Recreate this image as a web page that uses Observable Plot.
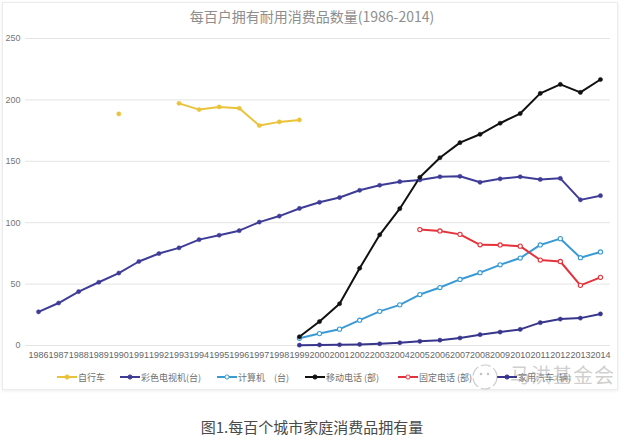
<!DOCTYPE html>
<html>
<head>
<meta charset="utf-8">
<script src="https://cdn.jsdelivr.net/npm/d3@7"></script>
<script src="https://cdn.jsdelivr.net/npm/@observablehq/plot@0.6"></script>
<style>
  html, body { margin: 0; padding: 0; background: #fff; }
  #wrap { position: relative; width: 624px; height: 447px; overflow: hidden; font-family: "Noto Sans CJK SC", "Liberation Sans", sans-serif; }
  #box { position: absolute; left: 2px; top: 2px; width: 614px; height: 386px; border: 1px solid #ececec; box-shadow: 0 1px 3px rgba(0,0,0,0.08); background: #fff; }
  #title { position: absolute; left: 0; width: 624px; top: 6px; text-align: center; font-size: 14px; color: #8e8e8e; line-height: 20px; }
  #plot { position: absolute; left: 0; top: 30px; }
  #legend { position: absolute; top: 368px; left: 0; width: 624px; height: 18px; }
  .li { position: absolute; top: 0; height: 18px; display: flex; align-items: center; font-size: 9px; color: #707070; white-space: pre; }
  .li svg { margin-right: 1px; }
  #wm { position: absolute; left: 510px; top: 362px; font-size: 20px; line-height: 26px; letter-spacing: 1px; white-space: nowrap; color: rgba(160,160,160,0.5); }
  #wmicon { position: absolute; left: 470px; top: 362px; }
  #caption { position: absolute; left: 0; width: 624px; top: 417px; text-align: center; font-size: 15px; color: #4a4a4a; line-height: 20px; }
</style>
</head>
<body>
<div id="wrap">
  <div id="box"></div>
  <div id="title">每百户拥有耐用消费品数量(1986-2014)</div>
  <div id="plot"></div>
  <div id="legend"></div>
  <svg id="wmicon" width="30" height="30"><circle cx="15" cy="15" r="12" fill="none" stroke="rgba(170,170,170,0.6)" stroke-width="1.2" stroke-dasharray="10 3"/><circle cx="11" cy="12" r="1.3" fill="rgba(170,170,170,0.7)"/><circle cx="18" cy="12" r="1.3" fill="rgba(170,170,170,0.7)"/></svg>
  <div id="wm">马洪基金会</div>
  <div id="caption">图1.每百个城市家庭消费品拥有量</div>
</div>
<script>
const years = d3.range(1986, 2015);
const yTicks = [0, 50, 100, 150, 200, 250];

const seriesNames = ["自行车", "彩色电视机(台)", "计算机　(台)", "移动电话 (部)", "固定电话 (部)", "家用汽车 (辆)"];
const seriesColors = ["#EAC33A", "#3E3C96", "#3A9AD6", "#111111", "#E5323A", "#37358C"];
const seriesHollow = [false, false, true, false, true, false];
const legendX = [57, 120, 217, 305, 398, 497];

const N = null;
// values aligned with years 1986..2014
const bicycle = [N,N,N,N,188.6,N,N,197.2,192.1,194.3,193.2,179.1,182.1,183.7,N,N,N,N,N,N,N,N,N,N,N,N,N,N,N];
const colorTV = [27.4,34.6,43.9,51.5,59.0,68.4,74.9,79.5,86.2,89.8,93.5,100.5,105.4,111.6,116.6,120.5,126.4,130.5,133.4,134.8,137.4,137.8,132.9,135.7,137.4,135.2,136.1,118.6,122.0];
const computer = [N,N,N,N,N,N,N,N,N,N,N,N,N,5.9,9.7,13.3,20.6,27.8,33.1,41.5,47.2,53.8,59.3,65.7,71.2,81.9,87.0,71.5,76.2];
const mobile = [N,N,N,N,N,N,N,N,N,N,N,N,N,7.1,19.5,34.0,62.9,90.1,111.4,137.0,152.9,165.2,172.0,181.0,188.9,205.3,212.6,206.1,216.6];
const fixedPhone = [N,N,N,N,N,N,N,N,N,N,N,N,N,N,N,N,N,N,N,94.4,93.3,90.5,82.0,81.9,80.9,69.6,68.4,49.0,55.5];
const car = [N,N,N,N,N,N,N,N,N,N,N,N,N,0.3,0.5,0.6,0.9,1.4,2.2,3.4,4.3,6.1,8.8,10.9,13.1,18.6,21.5,22.3,25.7];

const seriesValues = [bicycle, colorTV, computer, mobile, fixedPhone, car];

const marks = [
  Plot.gridY(yTicks, {stroke: "#e4e4e4", strokeOpacity: 1, strokeWidth: 1}),
  Plot.axisY(yTicks, {tickSize: 0, tickPadding: 5, fontSize: 9, fill: "#777", label: null, fontFamily: "Liberation Sans"}),
  Plot.axisX(years, {tickSize: 0, tickPadding: 6, fontSize: 9, fill: "#666", tickFormat: d => String(d), label: null, fontFamily: "Liberation Sans"})
];

seriesValues.forEach((vals, i) => {
  const data = years.map((y, j) => ({year: y, value: vals[j]}));
  marks.push(Plot.line(data, {x: "year", y: "value", stroke: seriesColors[i], strokeWidth: 2, curve: "linear"}));
});
seriesValues.forEach((vals, i) => {
  const data = years.map((y, j) => ({year: y, value: vals[j]})).filter(d => d.value != null);
  marks.push(Plot.dot(data, {x: "year", y: "value", r: 2.1, fill: seriesHollow[i] ? "#fff" : seriesColors[i], stroke: seriesColors[i], strokeWidth: seriesHollow[i] ? 1.1 : 0.5}));
});

const chart = Plot.plot({
  width: 624,
  height: 336,
  marginTop: 8,
  marginBottom: 21,
  marginLeft: 25,
  marginRight: 14,
  x: {domain: [1985.35, 2014.5], axis: null},
  y: {domain: [0, 250], axis: null},
  style: {background: "transparent", fontFamily: "Liberation Sans"},
  marks
});
document.getElementById("plot").appendChild(chart);

const legend = document.getElementById("legend");
seriesNames.forEach((name, i) => {
  const item = document.createElement("div");
  item.className = "li";
  item.style.left = legendX[i] + "px";
  const c = seriesColors[i];
  const fill = seriesHollow[i] ? "#fff" : c;
  item.innerHTML = `<svg width="20" height="10"><line x1="0" y1="5" x2="20" y2="5" stroke="${c}" stroke-width="2"/><circle cx="10" cy="5" r="2.1" fill="${fill}" stroke="${c}" stroke-width="1"/></svg><span>${name}</span>`;
  legend.appendChild(item);
});
</script>
</body>
</html>
